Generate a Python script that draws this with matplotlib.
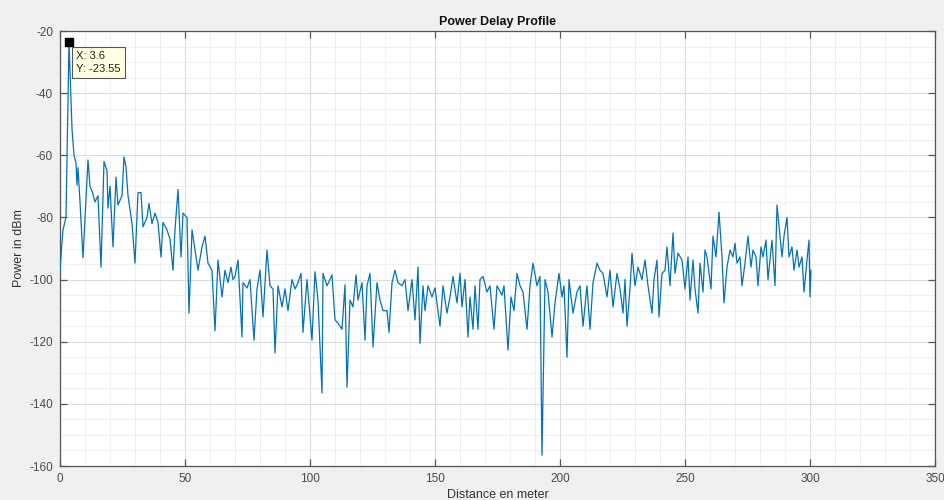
import matplotlib
matplotlib.use("Agg")
import matplotlib.pyplot as plt
from matplotlib.ticker import MultipleLocator

plt.rcParams["font.family"] = ["Liberation Sans", "DejaVu Sans"]
plt.rcParams["axes.unicode_minus"] = False

# ---- data ----
distance_m = [
    0.0, 0.6, 1.2, 2.4, 3.6, 4.8, 5.6, 6.4, 6.8, 7.2, 8.0, 9.2, 11.2, 12.0, 13.0, 14.0,
    15.2, 16.4, 17.6, 18.8, 19.2, 20.0, 21.2, 22.4, 23.2, 24.8, 25.6, 26.4, 27.2, 28.8,
    30.0, 31.2, 32.4, 33.2, 34.8, 35.6, 36.8, 38.0, 39.2, 40.4, 41.2, 42.8, 44.0, 45.2,
    46.0, 47.2, 48.4, 49.2, 50.8, 51.6, 52.8, 54.0, 55.2, 56.8, 58.0, 59.2, 60.8, 62.0,
    63.2, 64.8, 66.0, 67.2, 68.4, 69.2, 70.0, 71.2, 72.8, 73.2, 74.8, 76.0, 77.6, 78.8,
    80.0, 81.2, 82.8, 84.0, 85.2, 86.0, 87.2, 88.8, 90.0, 91.2, 92.8, 94.0, 95.2, 96.4,
    97.2, 98.8, 100.8, 102.0, 103.2, 104.8, 105.2, 106.8, 108.8, 110.0, 111.2, 112.8,
    114.0, 114.8, 116.0, 117.2, 118.4, 119.2, 120.8, 122.0, 122.8, 124.0, 125.2, 126.8,
    128.0, 129.2, 130.8, 131.6, 132.8, 134.0, 135.2, 136.8, 138.0, 139.2, 140.8, 142.0,
    143.2, 144.0, 145.2, 146.0, 147.2, 148.8, 150.0, 152.0, 153.2, 154.8, 156.0, 157.2,
    158.8, 160.0, 160.8, 162.0, 163.2, 164.0, 165.2, 166.0, 167.2, 168.0, 169.2, 170.8,
    172.0, 173.6, 174.8, 176.8, 177.6, 179.2, 180.4, 181.6, 182.8, 184.0, 185.2, 186.8,
    188.0, 189.2, 190.8, 192.0, 192.8, 194.0, 195.2, 196.8, 198.0, 199.6, 200.8, 201.6,
    202.8, 203.6, 205.2, 206.8, 208.0, 209.2, 210.8, 212.0, 213.2, 214.8, 216.0, 217.2,
    218.8, 220.0, 221.2, 222.8, 224.0, 225.2, 226.0, 226.8, 228.0, 228.8, 230.0, 231.2,
    232.8, 234.0, 235.2, 236.8, 237.6, 238.8, 239.6, 240.8, 242.0, 242.8, 244.0, 245.2,
    246.0, 247.2, 248.8, 250.0, 251.2, 252.0, 253.2, 254.0, 255.2, 256.0, 257.2, 258.0,
    258.8, 260.4, 261.2, 262.4, 263.6, 264.8, 265.6, 266.8, 268.0, 269.2, 270.0, 270.8,
    272.0, 272.8, 274.0, 275.2, 276.4, 277.2, 278.4, 279.2, 280.4, 281.2, 282.4, 283.2,
    284.8, 286.0, 286.8, 288.0, 288.8, 289.6, 290.8, 291.6, 292.8, 293.6, 294.8, 295.6,
    296.8, 297.6, 298.8, 299.6, 300.0, 300.4,
]
power_dbm = [
    -97, -90, -84, -80, -23.55, -51.5, -60, -62.5, -69.6, -64, -75, -93, -61.5, -70, -72, -75,
    -73, -96, -62, -65, -77, -70, -89.5, -67, -76, -73, -60.5, -63.8, -73, -82,
    -94.7, -72, -72, -83, -80, -75.5, -82, -78.6, -81.6, -92.7, -81.6, -84, -87, -97,
    -84, -71, -92.7, -78.6, -80, -110.8, -84, -90.5, -97, -89.5, -86, -94.7, -97, -116.5,
    -93.7, -105.6, -97, -101, -96, -100, -99, -93.7, -118.5, -101, -102.7, -100, -119.5, -103,
    -97, -112, -90.5, -102, -103, -123.6, -102, -108.8, -103, -110, -100, -103, -101, -98,
    -117, -100, -119.5, -97.5, -106.6, -136.5, -98, -102, -98.5, -113, -114, -116,
    -101.7, -134.6, -106.6, -108.8, -98.5, -106.6, -101, -119.5, -102, -98, -121.7, -101,
    -106.6, -110, -110, -117, -101, -97, -101, -102, -100, -110, -100, -113,
    -96, -120.5, -102, -110, -102, -105.6, -102.7, -115, -102, -110.8, -105.6, -99,
    -107.5, -98, -108.8, -100, -118.5, -105.6, -116, -102, -116, -100, -99, -104,
    -102, -116, -102, -105, -102, -122.7, -105.6, -110, -98, -102, -104, -116,
    -102, -94.7, -102, -99, -156.5, -100, -104, -118.5, -107.5, -98, -105.6, -102,
    -125, -100, -110.8, -104, -102, -115, -102, -116, -101, -94.7, -97, -98,
    -105.6, -97, -108.8, -98, -103, -110.8, -100, -115, -103, -91.5, -102, -96,
    -100, -93.7, -102, -110.8, -100, -93.7, -112, -98, -97, -89.5, -102, -85,
    -98, -91.5, -93.7, -103, -92.7, -106.6, -93.7, -103, -110.8, -94.7, -104, -90.5,
    -92.7, -103, -86, -92.7, -78.3, -92.7, -107.5, -96, -90.5, -92.7, -88.3, -94.7,
    -92.7, -102, -94.7, -86, -96, -90.5, -92.7, -102, -89.5, -92.7, -87.3, -100,
    -87.3, -102, -76, -86, -92.7, -86, -80, -92.7, -89.5, -97, -90.5, -96,
    -92.7, -104, -93.7, -87.3, -105.6, -97,
]
x_ticks = [0, 50, 100, 150, 200, 250, 300, 350]
y_ticks = [-160, -140, -120, -100, -80, -60, -40, -20]
tip_x, tip_y = 3.6, -23.55

fig = plt.figure(figsize=(9.45, 5.0), dpi=100, facecolor="#f0f0f0")
ax = fig.add_axes([60 / 945, 1 - 466 / 500, 875 / 945, 435 / 500])
ax.set_facecolor("white")

ax.plot(distance_m, power_dbm, color="#0072BD", linewidth=0.9, zorder=3)

ax.set_xlim(0, 350)
ax.set_ylim(-160, -20)
ax.set_xticks(x_ticks)
ax.set_yticks(y_ticks)
ax.xaxis.set_minor_locator(MultipleLocator(10))
ax.yaxis.set_minor_locator(MultipleLocator(5))
ax.grid(True, which="major", color="#dcdcdc", linewidth=0.8)
ax.grid(True, which="minor", color="#ececec", linewidth=0.6)
ax.set_axisbelow(True)

edge = "#555555"
for s in ax.spines.values():
    s.set_color(edge)
    s.set_linewidth(0.9)
ax.tick_params(which="major", direction="in", length=5, width=0.9, color=edge,
               top=True, right=True, labelsize=8.5, labelcolor="#4a4a4a", pad=5)
ax.tick_params(which="minor", length=0, top=True, right=True)

ax.set_title("Power Delay Profile", fontsize=9, fontweight="bold", color="#111111", pad=4)
ax.set_xlabel("Distance en meter", fontsize=9, color="#333333", labelpad=3)
ax.set_ylabel("Power in dBm", fontsize=9, color="#333333")
ax.yaxis.set_label_coords(-0.040, 0.5)

# data tip
ax.plot([tip_x], [tip_y], marker="s", color="black", markersize=6, zorder=5)
ax.annotate(f"X: {tip_x}\nY: {tip_y}", xy=(tip_x, tip_y), xytext=(6.6, -26.5),
            textcoords="data", fontsize=8, color="#222222", va="top", ha="left",
            linespacing=1.3,
            bbox=dict(boxstyle="square,pad=0.4", facecolor="#ffffe1", edgecolor="#555555",
                      linewidth=0.8), zorder=6)

fig.savefig("out.png", dpi=100, facecolor=fig.get_facecolor())
